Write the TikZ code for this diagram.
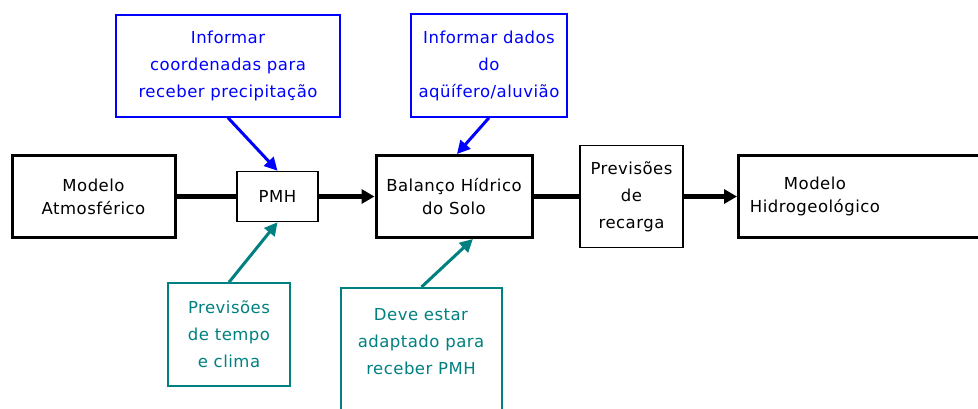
\documentclass[tikz,border=0pt]{standalone}
\usepackage{fontspec}
\setmainfont[LetterSpace=3]{DejaVu Sans}
\usetikzlibrary{arrows.meta,positioning}
\definecolor{infoblue}{RGB}{0,0,255}
\definecolor{noteteal}{RGB}{0,128,128}

\begin{document}
\begin{tikzpicture}[x=1pt,y=-1pt,
    every node/.style={align=center,inner sep=0pt,font=\fontsize{16.5}{27}\selectfont},
    mainbox/.style={draw,line width=3pt,minimum height=82pt,font=\fontsize{16.5}{23}\selectfont},
    thinbox/.style={draw,line width=1.5pt},
    infobox/.style={draw=infoblue,line width=1.5pt,text=infoblue},
    notebox/.style={draw=noteteal,line width=1.5pt,text=noteteal},
    flowline/.style={line width=5pt},
    flowarrow/.style={line width=5pt,-{Triangle[length=13pt,width=14pt]}},
    infoarrow/.style={infoblue,line width=3pt,-{Triangle[length=13pt,width=13pt]}},
    notearrow/.style={noteteal,line width=3pt,-{Triangle[length=13pt,width=13pt]}}]
  \useasboundingbox (0,0) rectangle (978,408);              % page size

  % main row
  \node[mainbox,minimum width=163pt] (atm) at (93.5,196.5) {Modelo\\Atmosférico};
  \node[thinbox,minimum width=81pt,minimum height=50pt] (pmh) at (277.5,196.5) {PMH};
  \node[mainbox,minimum width=156pt] (bal) at (454,196.5) {Balanço Hídrico\\do Solo};
  \node[thinbox,minimum width=103pt,minimum height=102pt] (rec) at (631.5,196.5) {Previsões\\de\\recarga};
  \node[mainbox,minimum width=265pt,anchor=west] (hidro) at (737,196.5) {};   % runs off the page
  \node[font=\fontsize{16.5}{23}\selectfont] (hidrotxt) at (815,196) {Modelo\\Hidrogeológico};

  % notes above
  \node[infobox,minimum width=224pt,minimum height=102pt] (coord) at (228,66) {Informar\\coordenadas para\\receber precipitação};
  \node[infobox,minimum width=156pt,minimum height=103pt] (dados) at (489,65.5) {Informar dados\\do\\aqüífero/aluvião};

  % notes below
  \node[notebox,minimum width=122pt,minimum height=103pt] (tempo) at (229,334.5) {Previsões\\de tempo\\e clima};
  \node[notebox,minimum width=161pt,minimum height=150pt,anchor=north] (deve) at (421.5,287) {};  % runs off the page
  \node[text=noteteal] (devetxt) at (421,342) {Deve estar\\adaptado para\\receber PMH};

  \draw[flowline] (atm) -- (pmh);           % atmosphere to PMH
  \draw[flowarrow] (pmh) -- (bal);          % PMH to water balance
  \draw[flowline] (bal) -- (rec);           % water balance to recharge
  \draw[flowarrow] (rec) -- (hidro);        % recharge to groundwater model

  \draw[infoarrow] (coord.south) -- (pmh.north);
  \draw[infoarrow] (dados.south) -- (bal.86);
  \draw[notearrow] (tempo.north) -- (pmh.south);
  \draw[notearrow] (deve.north) -- (bal.-66);
\end{tikzpicture}
\end{document}
